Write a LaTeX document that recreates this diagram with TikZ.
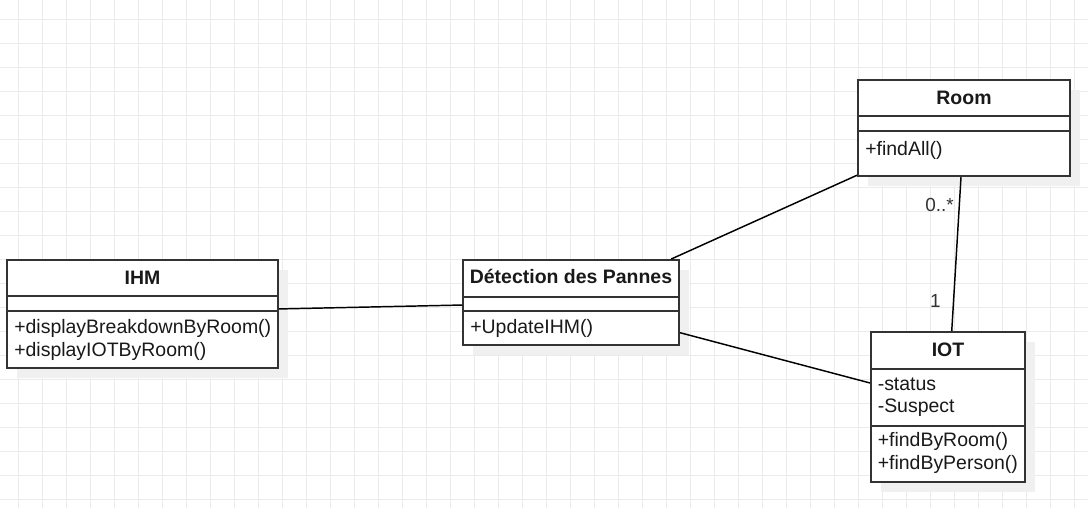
\documentclass[tikz,border=0pt]{standalone}
\usepackage{fontspec}
\setmainfont{Liberation Sans}
\usetikzlibrary{calc,shadows}

\tikzset{
  gridline/.style={draw=black!8, line width=0.75pt},
  classbox/.style={draw=black!80, line width=1.5pt, fill=white, inner sep=0pt, anchor=north west,
    drop shadow={shadow xshift=7.5pt, shadow yshift=-7.5pt, fill=black!6, opacity=1}},
  compsep/.style={draw=black!80, line width=1.5pt},
  classname/.style={font=\fontsize{14.6pt}{16.5pt}\selectfont\bfseries, anchor=base, inner sep=0pt, text=black!90},
  member/.style={font=\fontsize{14.6pt}{16.5pt}\selectfont, anchor=base west, inner sep=0pt, text=black!90},
  mult/.style={font=\fontsize{14.2pt}{16pt}\selectfont, anchor=base east, inner sep=0pt, text=black!80},
  assoc/.style={draw=black, line width=1.1pt},
}

\begin{document}
\begin{tikzpicture}[x=0.75pt,y=-0.75pt]
    \fill[white] (0,0) rectangle (1088,508);
    \useasboundingbox (0,0) rectangle (1088,508);

    % grid
    \foreach \gx in {0,...,44}
        \draw[gridline] ({18.3+24*\gx},0) -- ({18.3+24*\gx},508);
    \foreach \gy in {0,...,20}
        \draw[gridline] (0,{19.3+24*\gy}) -- (1088,{19.3+24*\gy});

    % classes
    \node[classbox, minimum width=203.25pt, minimum height=81pt] (ihm) at (6,259) {};
    \draw[compsep] ($(ihm.north west)+(0,37)$) -- ($(ihm.north east)+(0,37)$);
    \draw[compsep] ($(ihm.north west)+(0,52)$) -- ($(ihm.north east)+(0,52)$);
    \node[classname] (ihmname) at ($(ihm.north)+(0,25)$) {IHM};
    \node[member] (ihmop1) at ($(ihm.north west)+(8,74.5)$) {+displayBreakdownByRoom()};
    \node[member] (ihmop2) at ($(ihm.north west)+(8,97)$) {+displayIOTByRoom()};

    \node[classbox, minimum width=162pt, minimum height=63.75pt] (det) at (462,259) {};
    \draw[compsep] ($(det.north west)+(0,37.5)$) -- ($(det.north east)+(0,37.5)$);
    \draw[compsep] ($(det.north west)+(0,52.3)$) -- ($(det.north east)+(0,52.3)$);
    \node[classname] (detname) at ($(det.north)+(0,24.5)$) {Détection des Pannes};
    \node[member] (detop1) at ($(det.north west)+(8,74.3)$) {+UpdateIHM()};

    \node[classbox, minimum width=159pt, minimum height=72pt] (room) at (857,79) {};
    \draw[compsep] ($(room.north west)+(0,37)$) -- ($(room.north east)+(0,37)$);
    \draw[compsep] ($(room.north west)+(0,52.3)$) -- ($(room.north east)+(0,52.3)$);
    \node[classname] (roomname) at ($(room.north)+(0,25)$) {Room};
    \node[member] (roomop1) at ($(room.north west)+(8,76)$) {+findAll()};

    \node[classbox, minimum width=115.5pt, minimum height=112.5pt] (iot) at (870,331) {};
    \draw[compsep] ($(iot.north west)+(0,37.7)$) -- ($(iot.north east)+(0,37.7)$);
    \draw[compsep] ($(iot.north west)+(0,94.7)$) -- ($(iot.north east)+(0,94.7)$);
    \node[classname] (iotname) at ($(iot.north)+(0,25)$) {IOT};
    \node[member] (iotat1) at ($(iot.north west)+(7.5,59)$) {-status};
    \node[member] (iotat2) at ($(iot.north west)+(7.5,81.7)$) {-Suspect};
    \node[member] (iotop1) at ($(iot.north west)+(7.5,115.7)$) {+findByRoom()};
    \node[member] (iotop2) at ($(iot.north west)+(7.5,138.3)$) {+findByPerson()};

    % associations
    \draw[assoc] ($(ihm.north east)!0.454!(ihm.south east)$) -- ($(det.north west)!0.529!(det.south west)$);
    \draw[assoc] ($(det.north west)!0.96!(det.north east)$) -- ($(room.north west)!0.982!(room.south west)$);
    \draw[assoc] ($(det.north east)!0.847!(det.south east)$) -- ($(iot.north west)!0.342!(iot.south west)$);
    \draw[assoc] ($(room.south west)!0.486!(room.south east)$) -- ($(iot.north west)!0.524!(iot.north east)$);
    \node[mult] (mroom) at (954,211.7) {0..*};
    \node[mult] (miot) at (941,307.7) {1};
\end{tikzpicture}
\end{document}
